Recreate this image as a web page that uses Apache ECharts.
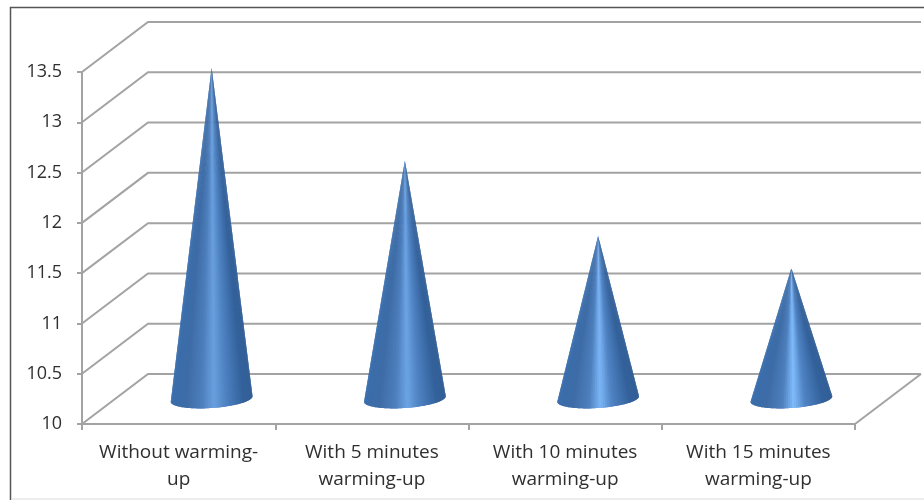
<!DOCTYPE html>
<html>
<head>
<meta charset="utf-8">
<style>
  html, body { margin: 0; padding: 0; background: #fff; }
  #chart { width: 924px; height: 500px; }
</style>
<script src="https://cdn.jsdelivr.net/npm/echarts@6/dist/echarts.min.js"></script>
</head>
<body>
<div id="chart"></div>
<script>
const categories = ['Without warming-\nup', 'With 5 minutes\nwarming-up', 'With 10 minutes\nwarming-up', 'With 15 minutes\nwarming-up'];
const peakValues = [13.29, 12.37, 11.62, 11.30];
const tickValues = [10, 10.5, 11, 11.5, 12, 12.5, 13, 13.5];

const depthX = 66, depthY = -50;
const coneRx = 41, coneRy = 9, coneTilt = 4 * Math.PI / 180;
const gridColor = '#a3a3a3';
// brightest band differs a little from cone to cone
const coneHighlights = [[106, 160, 222], [108, 164, 228], [124, 182, 246], [128, 188, 252]];
// shading across the cone, left to right. null = the cone's highlight
const shadeStops = [
    [0, [58, 110, 172]],
    [0.18, [62, 108, 166]],
    [0.38, [78, 128, 190]],
    [0.52, null],
    [0.66, [80, 132, 196]],
    [0.88, [52, 98, 156]],
    [1, [50, 94, 150]]
];

function shade(u, highlight) {
    let i = 1;
    while (i < shadeStops.length - 1 && shadeStops[i][0] < u) i++;
    const a = shadeStops[i - 1], b = shadeStops[i];
    const k = (u - a[0]) / (b[0] - a[0]);
    const from = a[1] || highlight, to = b[1] || highlight;
    const c = from.map((v, n) => Math.round(v + (to[n] - v) * k));
    return 'rgb(' + c.join(',') + ')';
}

// 3D walls: each tick runs from the front axis back and along the rear wall
function renderWall(params, api) {
    const rect = params.coordSys;
    const y = api.coord([0, api.value(0)])[1];
    const children = [{
        type: 'polyline',
        shape: { points: [[rect.x, y], [rect.x + depthX, y + depthY], [rect.x + rect.width + depthX, y + depthY]] },
        style: { fill: null, stroke: gridColor, lineWidth: 2 }
    }];
    if (params.dataIndex === 0) {
        children.push({
            type: 'line',
            shape: { x1: rect.x + rect.width, y1: y, x2: rect.x + rect.width + depthX, y2: y + depthY },
            style: { stroke: gridColor, lineWidth: 2 }
        });
    }
    return { type: 'group', children: children };
}

// cone made of thin slices running from the tip round the front of the base.
// slices overlap the next one so no seams show
function renderCone(params, api) {
    const cat = api.value(0);
    const base = api.coord([cat, 10]);
    const top = api.coord([cat, api.value(1)]);
    const cx = base[0] + depthX / 2, cy = base[1] + depthY / 2;
    const tip = [cx, top[1] + depthY / 2];
    const cos = Math.cos(coneTilt), sin = Math.sin(coneTilt);
    const point = t => {
        const a = coneRx * Math.cos(t), b = coneRy * Math.sin(t);
        return [cx + a * cos + b * sin, cy - a * sin + b * cos];
    };
    const children = [];
    const steps = 60;
    for (let i = steps - 1; i >= 0; i--) {
        const t0 = Math.PI * i / steps, t1 = Math.PI * (i + 1) / steps;
        const tEnd = Math.PI * Math.max(i - 1, 0) / steps;
        const u = (1 - Math.cos((t0 + t1) / 2)) / 2;
        children.push({
            type: 'polygon',
            shape: { points: [tip, point(t1), point(t0), point(tEnd)] },
            style: { fill: shade(1 - u, coneHighlights[cat]) }
        });
    }
    return { type: 'group', children: children };
}

const chart = echarts.init(document.getElementById('chart'));
chart.setOption({
    animation: false,
    backgroundColor: '#fff',
    textStyle: { fontFamily: 'Open Sans' },
    grid: { left: 82, right: 69, top: 72, bottom: 76 },
    xAxis: {
        type: 'category',
        data: categories,
        axisLine: { lineStyle: { color: gridColor, width: 2 } },
        axisTick: { show: true, alignWithLabel: false, length: 6, lineStyle: { color: gridColor, width: 2 } },
        axisLabel: { color: '#2f2f2f', fontSize: 19, lineHeight: 27, margin: 15, interval: 0 }
    },
    yAxis: {
        type: 'value',
        min: 10,
        max: 13.5,
        interval: 0.5,
        axisLine: { show: true, lineStyle: { color: gridColor, width: 2 } },
        axisTick: { show: true, length: 5, lineStyle: { color: gridColor, width: 2 } },
        axisLabel: { color: '#2f2f2f', fontSize: 18, margin: 20, padding: [3, 0, 0, 0] },
        splitLine: { show: false }
    },
    graphic: [
        { type: 'polyline', silent: true, shape: { points: [[10.5, 500], [10.5, 7.5], [924, 7.5]] }, style: { fill: null, stroke: '#555', lineWidth: 1.5 } },
        { type: 'line', silent: true, shape: { x1: 11, y1: 499, x2: 924, y2: 499 }, style: { stroke: '#d9d9d9', lineWidth: 1 } }
    ],
    series: [
        {
            type: 'custom',
            silent: true,
            renderItem: renderWall,
            encode: { y: 0 },
            data: tickValues.map(v => [v])
        },
        {
            type: 'custom',
            silent: true,
            z: 5,
            renderItem: renderCone,
            encode: { x: 0, y: 1 },
            data: peakValues.map((v, i) => [i, v])
        }
    ]
});
</script>
</body>
</html>
